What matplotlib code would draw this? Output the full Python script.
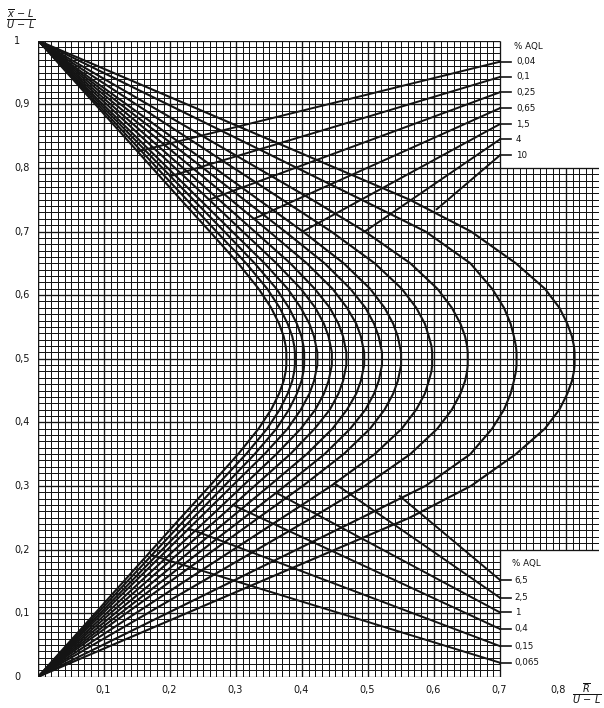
import matplotlib
matplotlib.use('Agg')
import matplotlib.pyplot as plt
import numpy as np

# ---------------- data ----------------
AQL_LABELS = ['0,04', '0,065', '0,1', '0,15', '0,25', '0,4', '0,65', '1', '1,5', '2,5', '4', '6,5', '10']

CURVE_Y = [0, .25, .30, .35, .39, .42, .445, .465, .48, .49, .50,
           .51, .52, .535, .555, .58, .61, .65, .70, .75, 1]

CURVE_X = {
    '0,04':  [0, .216, .260, .303, .334, .353, .365, .372, .375, .376, .376, .376, .375, .372, .365, .353, .334, .303, .260, .216, 0],
    '0,065': [0, .225, .270, .315, .347, .366, .378, .385, .388, .389, .389, .389, .388, .385, .378, .366, .347, .315, .270, .225, 0],
    '0,1':   [0, .235, .282, .328, .361, .380, .392, .399, .402, .403, .403, .403, .402, .399, .392, .380, .361, .328, .282, .235, 0],
    '0,15':  [0, .245, .294, .343, .378, .398, .411, .418, .421, .423, .423, .423, .421, .418, .411, .398, .378, .343, .294, .245, 0],
    '0,25':  [0, .259, .310, .361, .398, .420, .433, .440, .443, .445, .445, .445, .443, .440, .433, .420, .398, .361, .310, .259, 0],
    '0,4':   [0, .274, .328, .382, .419, .442, .455, .462, .465, .467, .467, .467, .465, .462, .455, .442, .419, .382, .328, .274, 0],
    '0,65':  [0, .292, .350, .407, .446, .468, .482, .489, .492, .494, .494, .494, .492, .489, .482, .468, .446, .407, .350, .292, 0],
    '1':     [0, .312, .374, .434, .473, .496, .509, .516, .519, .521, .521, .521, .519, .516, .509, .496, .473, .434, .374, .312, 0],
    '1,5':   [0, .334, .401, .463, .503, .525, .538, .545, .548, .550, .550, .550, .548, .545, .538, .525, .503, .463, .401, .334, 0],
    '2,5':   [0, .370, .444, .510, .551, .573, .586, .592, .596, .597, .597, .597, .596, .592, .586, .573, .551, .510, .444, .370, 0],
    '4':     [0, .415, .495, .564, .605, .627, .640, .647, .650, .651, .651, .651, .650, .647, .640, .627, .605, .564, .495, .415, 0],
    '6,5':   [0, .490, .587, .655, .688, .706, .716, .721, .724, .725, .725, .725, .724, .721, .716, .706, .688, .655, .587, .490, 0],
    '10':    [0, .563, .656, .724, .768, .790, .802, .809, .812, .813, .813, .813, .812, .809, .802, .790, .768, .724, .656, .563, 0],
}

# leader lines: start point on curve -> label level at the right edge
UPPER_LABELS = ['0,04', '0,1', '0,25', '0,65', '1,5', '4', '10']
UPPER_START_X = [0.151, 0.200, 0.259, 0.327, 0.401, 0.495, 0.604]
UPPER_START_Y = [0.826, 0.787, 0.750, 0.720, 0.700, 0.700, 0.735]
UPPER_END_Y = [0.967, 0.943, 0.919, 0.894, 0.869, 0.845, 0.820]

LOWER_LABELS = ['6,5', '2,5', '1', '0,4', '0,15', '0,065']
LOWER_START_X = [0.548, 0.449, 0.361, 0.295, 0.228, 0.172]
LOWER_START_Y = [0.284, 0.304, 0.289, 0.270, 0.233, 0.191]
LOWER_END_Y = [0.152, 0.124, 0.101, 0.075, 0.048, 0.022]

XTICKS = [0.1, 0.2, 0.3, 0.4, 0.5, 0.6, 0.7, 0.8]
XTICK_LABELS = ['0,1', '0,2', '0,3', '0,4', '0,5', '0,6', '0,7', '0,8']
YTICKS = [0, 0.1, 0.2, 0.3, 0.4, 0.5, 0.6, 0.7, 0.8, 0.9, 1.0]
YTICK_LABELS = ['0', '0,1', '0,2', '0,3', '0,4', '0,5', '0,6', '0,7', '0,8', '0,9', '1']

# ---------------- figure ----------------
fig = plt.figure(figsize=(6.04, 7.08), dpi=100)
ax = fig.add_axes([38.3 / 604, (708 - 676.7) / 708, 560.7 / 604, 636 / 708])
ax.set_xlim(0, 0.85)
ax.set_ylim(0, 1)
ax.axis('off')

INK = '#141414'

# graph-paper grid: main block 0..0.7 x 0..1, extension 0.7..0.85 x 0.2..0.8
for i in range(0, 86):
    x = i / 100
    lw = 0.95 if i % 10 == 0 else 0.72
    if i <= 70:
        ax.plot([x, x], [0, 1], color=INK, lw=lw, solid_capstyle='butt', zorder=1)
    else:
        ax.plot([x, x], [0.2, 0.8], color=INK, lw=lw, solid_capstyle='butt', zorder=1)
for j in range(0, 101):
    y = j / 100
    lw = 0.95 if j % 10 == 0 else 0.72
    xe = 0.85 if 20 <= j <= 80 else 0.70
    ax.plot([0, xe], [y, y], color=INK, lw=lw, solid_capstyle='butt', zorder=1)
ax.plot([0, 0], [0, 1], color=INK, lw=1.6, zorder=2)

# acceptance curves
for name in AQL_LABELS:
    ax.plot(CURVE_X[name], CURVE_Y, color=INK, lw=1.5, solid_joinstyle='round', zorder=3)

# leader lines and labels
fs_lab = 6.3
for lab, sx, sy, ey in zip(UPPER_LABELS, UPPER_START_X, UPPER_START_Y, UPPER_END_Y):
    ax.plot([sx, 0.70], [sy, ey], color=INK, lw=1.4, zorder=3)
    ax.plot([0.70, 0.716], [ey, ey], color=INK, lw=1.2, clip_on=False, zorder=3)
    ax.text(0.724, ey, lab, fontsize=fs_lab, va='center', ha='left', color=INK)
ax.text(0.721, 0.991, '% AQL', fontsize=fs_lab, va='center', ha='left', color=INK)

for lab, sx, sy, ey in zip(LOWER_LABELS, LOWER_START_X, LOWER_START_Y, LOWER_END_Y):
    ax.plot([sx, 0.70], [sy, ey], color=INK, lw=1.4, zorder=3)
    ax.plot([0.70, 0.716], [ey, ey], color=INK, lw=1.2, clip_on=False, zorder=3)
    ax.text(0.722, ey, lab, fontsize=fs_lab, va='center', ha='left', color=INK)
ax.text(0.718, 0.178, '% AQL', fontsize=fs_lab, va='center', ha='left', color=INK)

# tick labels
for v, t in zip(XTICKS, XTICK_LABELS):
    dx = -0.012 if v == XTICKS[-1] else -0.002
    ax.text(v + dx, -0.021, t, fontsize=7, ha='center', va='center', color=INK, clip_on=False)
for v, t in zip(YTICKS, YTICK_LABELS):
    ax.text(-0.0368, v, t, fontsize=7, ha='left', va='center', color=INK, clip_on=False)

# axis titles (fractions)
ax.text(-0.027, 1.034, r'$\frac{\overline{x}\,-\,L}{U\,-\,L}$', fontsize=10, ha='center', va='center',
        color=INK, clip_on=False)
ax.text(0.831, -0.026, r'$\frac{\overline{R}}{U\,-\,L}$', fontsize=10, ha='center', va='center',
        color=INK, clip_on=False)

fig.savefig('out.png', dpi=100)
